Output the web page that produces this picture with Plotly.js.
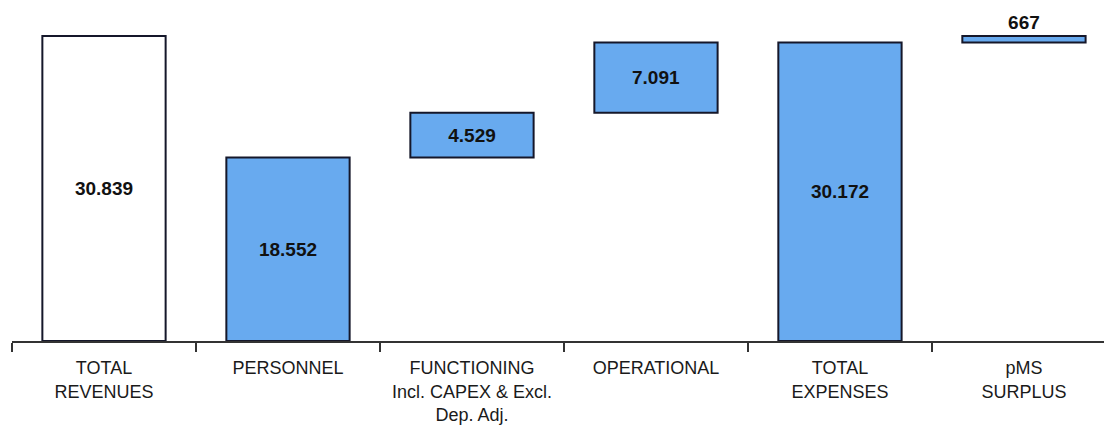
<!DOCTYPE html>
<html>
<head>
<meta charset="utf-8">
<script src="https://cdn.plot.ly/plotly-3.0.1.min.js"></script>
<style>html,body{margin:0;padding:0;background:#fff;}#chart{width:1104px;height:429px;}</style>
</head>
<body>
<div id="chart"></div>
<script>
const categories = ["TOTAL<br>REVENUES", "PERSONNEL", "FUNCTIONING<br>Incl. CAPEX & Excl.<br>Dep. Adj.", "OPERATIONAL", "TOTAL<br>EXPENSES", "pMS<br>SURPLUS"];
const values = [30839, 18552, 4529, 7091, 30172, 667];
const labels = ["30.839", "18.552", "4.529", "7.091", "30.172", "667"];
const kinds = ["total", "step", "step", "step", "total", "step"];

// bases: totals start at 0, steps stack on running expense sum
const bases = [];
let running = 0;
kinds.forEach((k, i) => {
  if (k === "total") { bases.push(0); running = (i === 0) ? 0 : values[i]; }
  else { bases.push(running); running += values[i]; }
});

const blue = "#68aaef";
const colors = values.map((v, i) => i === 0 ? "#ffffff" : blue);
const textpos = values.map((v, i) => i === values.length - 1 ? "outside" : "inside");

const font = "'Liberation Sans Narrow', 'Arial Narrow', 'Liberation Sans', sans-serif";

Plotly.newPlot("chart", [{
  type: "bar",
  x: categories,
  y: values,
  base: bases,
  width: 0.67,
  marker: { color: colors, line: { color: "#15172a", width: 2 } },
  text: labels,
  textposition: textpos,
  insidetextanchor: "middle",
  textangle: 0,
  cliponaxis: false,
  textfont: { family: font, size: 19, color: "#111", weight: "bold" },
  hoverinfo: "none"
}], {
  width: 1104, height: 429,
  margin: { l: 12, r: 0, t: 0, b: 88 },
  paper_bgcolor: "#fff", plot_bgcolor: "#fff",
  showlegend: false,
  xaxis: {
    type: "category",
    range: [-0.5, 5.435],
    tickson: "boundaries",
    ticks: "outside", ticklen: 9, tickwidth: 1.5, tickcolor: "#333",
    showline: true, linecolor: "#333", linewidth: 1.5,
    showgrid: false,
    ticklabelstandoff: 10,
    tickfont: { family: font, size: 18, color: "#1a1a1a" },
    fixedrange: true
  },
  yaxis: {
    range: [0, 34480],
    visible: false,
    showgrid: false, zeroline: false,
    fixedrange: true
  }
}, { displayModeBar: false, staticPlot: true });
</script>
</body>
</html>
